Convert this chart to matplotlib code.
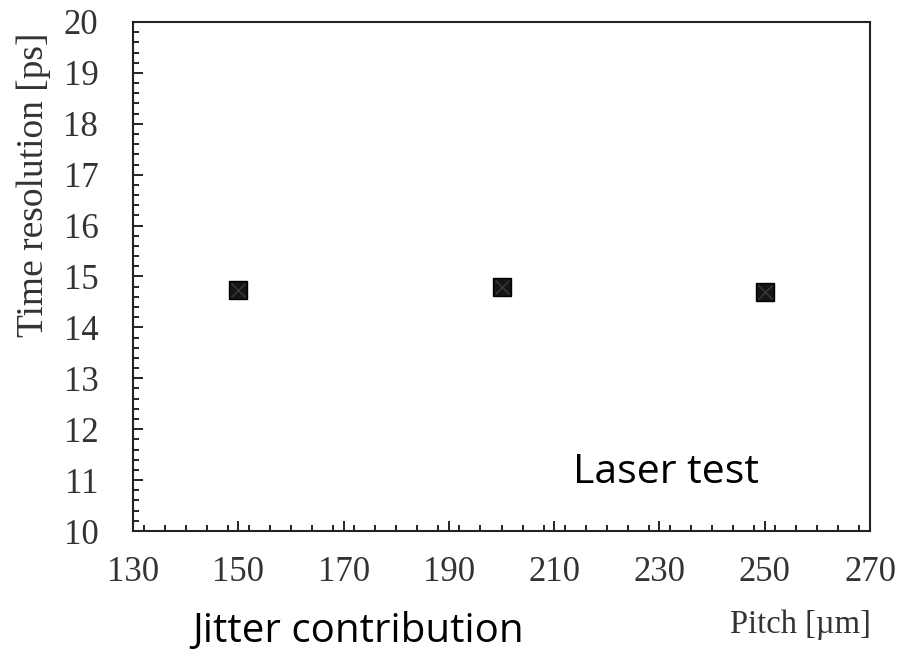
import matplotlib.pyplot as plt
from matplotlib.ticker import MultipleLocator

pitch = [150, 200, 250]
time_res = [14.74, 14.80, 14.70]

x_ticks = [130, 150, 170, 190, 210, 230, 250, 270]
y_ticks = [10, 11, 12, 13, 14, 15, 16, 17, 18, 19, 20]

fig = plt.figure(figsize=(9.05, 6.53), dpi=100)
ax = fig.add_axes([133 / 905, 1 - 531 / 653, 737 / 905, 509 / 653])

ax.plot(pitch, time_res, 's', color='#151515', ms=13.5, mec='#000000', mew=1)
ax.plot(pitch, time_res, 'x', color='#3a3a3a', ms=10, mew=1)

ax.set_xlim(130, 270)
ax.set_ylim(10, 20)
ax.set_xticks(x_ticks)
ax.set_yticks(y_ticks)
ax.xaxis.set_minor_locator(MultipleLocator(4))
ax.yaxis.set_minor_locator(MultipleLocator(0.2))
ax.tick_params(which='both', direction='in', top=False, right=False)
ax.tick_params(which='major', length=7, width=1.2, labelsize=25)
ax.tick_params(which='minor', length=4, width=1.2)
ax.tick_params(axis='x', which='major', pad=18)
ax.tick_params(axis='y', which='major', pad=25)
for lab in ax.get_xticklabels() + ax.get_yticklabels():
    lab.set_family('Liberation Serif')
    lab.set_color('#333333')
for s in ax.spines.values():
    s.set_linewidth(1.5)
    s.set_color('#222222')

ax.set_ylabel('Time resolution [ps]', family='Liberation Serif', fontsize=27, color='#333333')
ax.yaxis.set_label_coords(-0.111, 0.68)

fig.text(800 / 905, 1 - 633 / 653, 'Pitch [\u00b5m]', family='Liberation Serif', fontsize=23.5,
         color='#333333', ha='center', va='baseline')
fig.text(666 / 905, 1 - 483 / 653, 'Laser test', family='Open Sans', fontsize=29.5,
         ha='center', va='baseline')
fig.text(358 / 905, 1 - 642 / 653, 'Jitter contribution', family='Open Sans', fontsize=29,
         ha='center', va='baseline')

fig.savefig('out.png', dpi=100)
